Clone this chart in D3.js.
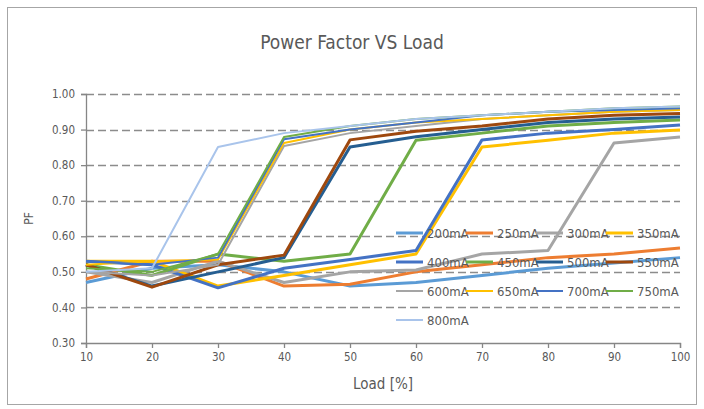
<!DOCTYPE html>
<html>
<head>
<meta charset="utf-8">
<script src="https://cdn.jsdelivr.net/npm/d3@7"></script>
<style>
  body { margin: 0; background: #fff; }
  svg text { font-family: "DejaVu Sans Condensed", "Roboto", sans-serif; fill: #595959; }
</style>
</head>
<body>
<svg id="svg" width="704" height="409"></svg>
<script>
const loads = [10, 20, 30, 40, 50, 60, 70, 80, 90, 100];
const yTicks = [0.3, 0.4, 0.5, 0.6, 0.7, 0.8, 0.9, 1.0];

const seriesNames = ['200mA', '250mA', '300mA', '350mA', '400mA', '450mA', '500mA',
  '550mA', '600mA', '650mA', '700mA', '750mA', '800mA'];
const seriesColors = ['#5b9bd5', '#ed7d31', '#a5a5a5', '#ffc000', '#4472c4', '#70ad47',
  '#255e91', '#9e480e', '#a5a5a5', '#ffc000', '#4472c4', '#70ad47', '#a9c4eb'];
const seriesWidths = [3, 3, 3, 3, 3, 3, 3, 3, 2, 2, 2, 2, 2];

const pf200 = [0.47, 0.51, 0.52, 0.50, 0.46, 0.47, 0.49, 0.51, 0.525, 0.54];
const pf250 = [0.48, 0.53, 0.53, 0.46, 0.465, 0.50, 0.52, 0.54, 0.55, 0.567];
const pf300 = [0.50, 0.47, 0.53, 0.47, 0.50, 0.505, 0.55, 0.56, 0.862, 0.879];
const pf350 = [0.53, 0.53, 0.46, 0.49, 0.52, 0.55, 0.851, 0.87, 0.89, 0.899];
const pf400 = [0.53, 0.52, 0.455, 0.51, 0.535, 0.56, 0.871, 0.89, 0.90, 0.913];
const pf450 = [0.52, 0.49, 0.55, 0.53, 0.55, 0.87, 0.89, 0.91, 0.92, 0.927];
const pf500 = [0.52, 0.46, 0.50, 0.54, 0.851, 0.88, 0.90, 0.92, 0.93, 0.935];
const pf550 = [0.52, 0.457, 0.52, 0.547, 0.871, 0.895, 0.91, 0.93, 0.94, 0.945];
const pf600 = [0.50, 0.49, 0.52, 0.854, 0.89, 0.91, 0.93, 0.94, 0.95, 0.955];
const pf650 = [0.52, 0.53, 0.535, 0.862, 0.90, 0.92, 0.93, 0.94, 0.95, 0.955];
const pf700 = [0.53, 0.52, 0.54, 0.873, 0.90, 0.92, 0.94, 0.95, 0.955, 0.96];
const pf750 = [0.51, 0.50, 0.55, 0.879, 0.91, 0.93, 0.94, 0.95, 0.96, 0.965];
const pf800 = [0.50, 0.51, 0.851, 0.89, 0.91, 0.93, 0.94, 0.95, 0.96, 0.965];
const seriesValues = [pf200, pf250, pf300, pf350, pf400, pf450, pf500,
  pf550, pf600, pf650, pf700, pf750, pf800];

const svg = d3.select('#svg');
const margin = { top: 94, left: 86, right: 24, bottom: 66 };
const width = 704 - margin.left - margin.right;
const height = 409 - margin.top - margin.bottom;

// chart frame
svg.append('rect')
  .attr('x', 7.5).attr('y', 7.5).attr('width', 689).attr('height', 397)
  .attr('fill', '#fff').attr('stroke', '#a6a6a6');

const x = d3.scaleLinear().domain([10, 100]).range([0, width]);
const y = d3.scaleLinear().domain([0.3, 1.0]).range([height, 0]);

const g = svg.append('g').attr('transform', 'translate(' + margin.left + ',' + margin.top + ')');

// gridlines
g.append('g').selectAll('line')
  .data(yTicks.slice(1))
  .enter().append('line')
  .attr('x1', 0).attr('x2', width)
  .attr('y1', d => Math.round(y(d)) + 0.5).attr('y2', d => Math.round(y(d)) + 0.5)
  .attr('stroke', '#8c8c8c').attr('stroke-width', 1.3)
  .attr('stroke-dasharray', '8,4');

// axes
const yAxis = g.append('g')
  .call(d3.axisLeft(y).tickValues(yTicks).tickFormat(d3.format('.2f')).tickSize(5).tickPadding(6));
const xAxis = g.append('g')
  .attr('transform', 'translate(0,' + height + ')')
  .call(d3.axisBottom(x).tickValues(loads).tickSize(5).tickPadding(5));
[xAxis, yAxis].forEach(a => {
  a.select('.domain').attr('stroke', '#868686').attr('stroke-width', 1.3);
  a.selectAll('.tick line').attr('stroke', '#868686').attr('stroke-width', 1.3);
  a.selectAll('.tick text').attr('fill', '#595959').style('font-size', '11.5px');
});

// series lines
const line = d3.line()
  .x((d, i) => x(loads[i]))
  .y(d => y(d));
g.append('g').selectAll('path')
  .data(seriesValues)
  .enter().append('path')
  .attr('d', line)
  .attr('fill', 'none')
  .attr('stroke', (d, i) => seriesColors[i])
  .attr('stroke-width', (d, i) => seriesWidths[i])
  .attr('stroke-linejoin', 'round');

// legend
const legend = svg.append('g');
const items = legend.selectAll('g')
  .data(seriesNames)
  .enter().append('g')
  .attr('transform', (d, i) => 'translate(' + (396 + (i % 4) * 70) + ',' + (233 + Math.floor(i / 4) * 29) + ')');
items.append('line')
  .attr('x1', 0).attr('x2', 27).attr('y1', 0).attr('y2', 0)
  .attr('stroke', (d, i) => seriesColors[i])
  .attr('stroke-width', (d, i) => seriesWidths[i]);
items.append('text')
  .attr('x', 31).attr('y', 0).attr('dy', '0.35em')
  .style('font-size', '13px')
  .text(d => d);

// titles
svg.append('text')
  .attr('x', 352).attr('y', 49)
  .attr('text-anchor', 'middle')
  .style('font-size', '19px')
  .text('Power Factor VS Load');
svg.append('text')
  .attr('x', margin.left + width / 2).attr('y', 389)
  .attr('text-anchor', 'middle')
  .style('font-size', '15px')
  .text('Load [%]');
svg.append('text')
  .attr('transform', 'translate(33,' + (margin.top + height / 2) + ') rotate(-90)')
  .attr('text-anchor', 'middle')
  .style('font-size', '12px')
  .text('PF');
</script>
</body>
</html>
